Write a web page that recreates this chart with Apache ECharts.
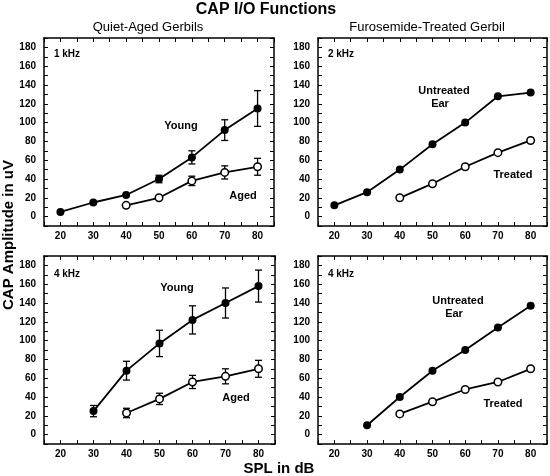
<!DOCTYPE html>
<html>
<head>
<meta charset="utf-8">
<script src="https://cdn.jsdelivr.net/npm/echarts@6/dist/echarts.min.js"></script>
<style>
html,body{margin:0;padding:0;background:#fff;}
#c{width:550px;height:476px;}
</style>
</head>
<body>
<div id="c"></div>
<script>
// ---- data ----
const spl = [20, 30, 40, 50, 60, 70, 80];
const xTickLabels = [20, 30, 40, 50, 60, 70, 80];
const yTickLabels = [0, 20, 40, 60, 80, 100, 120, 140, 160, 180];

// Panel 1: Quiet-Aged Gerbils, 1 kHz
const young1k    = [5, 15, 23, 40, 63, 92, 115];
const young1kErr = [0, 0, 0, 4, 7, 11, 19];
const aged1k     = [null, null, 12, 20, 38, 47, 53];
const aged1kErr  = [null, null, 0, 0, 5, 7, 9];

// Panel 2: Furosemide-Treated Gerbil, 2 kHz
const untreated2k = [12, 26, 50, 77, 100, 128, 132];
const treated2k   = [null, null, 20, 35, 53, 68, 81];

// Panel 3: Quiet-Aged Gerbils, 4 kHz
const young4k    = [null, 25, 68, 97, 122, 140, 158];
const young4kErr = [null, 6, 10, 14, 15, 16, 17];
const aged4k     = [null, null, 23, 38, 56, 62, 70];
const aged4kErr  = [null, null, 5, 6, 7, 8, 9];

// Panel 4: Furosemide-Treated Gerbil, 4 kHz
const untreated4k = [null, 10, 40, 68, 90, 114, 137];
const treated4k   = [null, null, 22, 35, 48, 56, 70];

// ---- layout ----
const FONT = '"Liberation Sans", Arial, sans-serif';
const grids = [
  {left: 44, top: 38, width: 230, height: 188},
  {left: 318, top: 38, width: 230, height: 188},
  {left: 44, top: 256, width: 231, height: 188},
  {left: 318, top: 256, width: 230, height: 188}
];

const pairs = (vals) => spl.map((x, i) => vals[i] == null ? null : [x, vals[i]]).filter(d => d);
const errTriples = (vals, errs) => spl.map((x, i) => (vals[i] == null || !errs[i]) ? null : [x, vals[i], errs[i]]).filter(d => d);

const xAxes = [], yAxes = [];
grids.forEach((g, gi) => {
  const common = {
    gridIndex: gi, type: 'value', splitLine: {show: false},
    axisLine: {show: true, onZero: false, lineStyle: {color: '#000', width: 1.5}},
    axisTick: {show: true, inside: true, length: 4, lineStyle: {color: '#000', width: 1}}
  };
  xAxes.push(Object.assign({}, common, {
    position: 'bottom', min: 15, max: 85, interval: 5,
    axisLabel: {margin: 5, color: '#000', fontFamily: FONT, fontWeight: 'bold', fontSize: 10,
      formatter: v => xTickLabels.includes(v) ? String(v) : ''}
  }));
  xAxes.push(Object.assign({}, common, {
    position: 'top', min: 15, max: 85, interval: 5, axisLabel: {show: false}
  }));
  yAxes.push(Object.assign({}, common, {
    position: 'left', min: -10, max: 190, interval: 10,
    axisLabel: {margin: 8, color: '#000', fontFamily: FONT, fontWeight: 'bold', fontSize: 10,
      formatter: v => yTickLabels.includes(v) ? String(v) : ''}
  }));
  yAxes.push(Object.assign({}, common, {
    position: 'right', min: -10, max: 190, interval: 10, axisLabel: {show: false}
  }));
});

function lineSeries(gi, vals, filled) {
  return {
    type: 'line', xAxisIndex: 2 * gi, yAxisIndex: 2 * gi, data: pairs(vals),
    symbol: 'circle', symbolSize: filled ? 8 : 7.5,
    lineStyle: {color: '#000', width: 1.8},
    itemStyle: {color: filled ? '#000' : '#fff', borderColor: '#000', borderWidth: filled ? 0 : 1.5},
    z: 3, silent: true, animation: false
  };
}
function errSeries(gi, vals, errs) {
  return {
    type: 'custom', xAxisIndex: 2 * gi, yAxisIndex: 2 * gi, data: errTriples(vals, errs),
    z: 2, silent: true, animation: false,
    renderItem: (params, api) => {
      const x = api.value(0), y = api.value(1), e = api.value(2);
      const hi = api.coord([x, y + e]), lo = api.coord([x, y - e]);
      const w = 3.5;
      const st = {stroke: '#000', lineWidth: 1.3};
      return {type: 'group', children: [
        {type: 'line', shape: {x1: hi[0], y1: hi[1], x2: lo[0], y2: lo[1]}, style: st},
        {type: 'line', shape: {x1: hi[0] - w, y1: hi[1], x2: hi[0] + w, y2: hi[1]}, style: st},
        {type: 'line', shape: {x1: lo[0] - w, y1: lo[1], x2: lo[0] + w, y2: lo[1]}, style: st}
      ]};
    }
  };
}

const series = [
  errSeries(0, young1k, young1kErr), errSeries(0, aged1k, aged1kErr),
  lineSeries(0, young1k, true), lineSeries(0, aged1k, false),
  lineSeries(1, untreated2k, true), lineSeries(1, treated2k, false),
  errSeries(2, young4k, young4kErr), errSeries(2, aged4k, aged4kErr),
  lineSeries(2, young4k, true), lineSeries(2, aged4k, false),
  lineSeries(3, untreated4k, true), lineSeries(3, treated4k, false)
];

function txt(text, x, y, size, weight, extra) {
  return Object.assign({
    type: 'text', x: x, y: y, silent: true,
    style: {text: text, fill: '#000', font: (weight || 'bold') + ' ' + size + 'px ' + FONT,
      textAlign: 'center', textVerticalAlign: 'middle'}
  }, extra || {});
}

const graphic = [
  txt('CAP I/O Functions', 266, 10, 16, 'bold'),
  txt('Quiet-Aged Gerbils', 148, 27, 13, 'normal'),
  txt('Furosemide-Treated Gerbil', 427, 27, 13, 'normal'),
  txt('CAP Amplitude in uV', 9, 235, 15, 'bold', {rotation: Math.PI / 2}),
  txt('SPL in dB', 279, 469, 15, 'bold'),
  txt('1 kHz', 67, 54, 10, 'bold'),
  txt('Young', 181, 126, 11, 'bold'),
  txt('Aged', 243, 196, 11, 'bold'),
  txt('2 kHz', 341, 54, 10, 'bold'),
  txt('Untreated', 444, 91, 11, 'bold'),
  txt('Ear', 440, 104, 11, 'bold'),
  txt('Treated', 513, 175, 11, 'bold'),
  txt('4 kHz', 67, 274, 10, 'bold'),
  txt('Young', 177, 288, 11, 'bold'),
  txt('Aged', 236, 398, 11, 'bold'),
  txt('4 kHz', 341, 274, 10, 'bold'),
  txt('Untreated', 458, 301, 11, 'bold'),
  txt('Ear', 454, 314, 11, 'bold'),
  txt('Treated', 503, 404, 11, 'bold')
];

const chart = echarts.init(document.getElementById('c'), null, {renderer: 'canvas'});
chart.setOption({
  backgroundColor: '#fff',
  animation: false,
  grid: grids,
  xAxis: xAxes,
  yAxis: yAxes,
  series: series,
  graphic: graphic
});
</script>
</body>
</html>
